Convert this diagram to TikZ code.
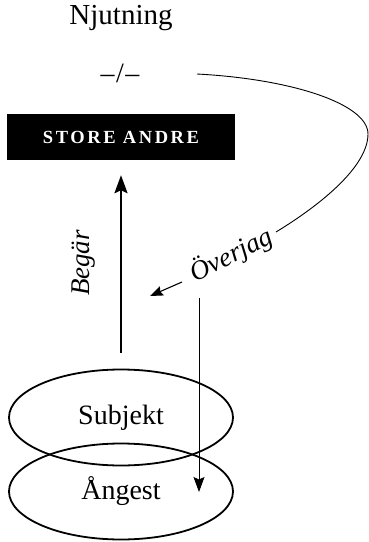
\documentclass[tikz,border=0pt]{standalone}
\usepackage{fontspec}
\setmainfont{Liberation Serif}
\newfontfamily\capsfont[LetterSpace=14]{Liberation Serif}
\usetikzlibrary{arrows.meta,shapes.geometric}
\tikzset{
  lbl/.style={font=\fontsize{28}{30}\selectfont, inner sep=0pt},
  itlbl/.style={font=\fontsize{27}{29}\selectfont\itshape, inner sep=0pt},
  oval/.style={ellipse, draw, line width=1.8pt, minimum width=224pt, minimum height=96pt, inner sep=0pt, font=\fontsize{28}{30}\selectfont},
  thinline/.style={line width=0.9pt},
  bigarrow/.style={line width=2.3pt, -{Stealth[length=18pt,width=13pt,inset=3pt]}},
  smallarrow/.style={line width=1.1pt, -{Stealth[length=13pt,width=10pt,inset=2pt]}},
  downarrow/.style={line width=0.9pt, -{Stealth[length=15pt,width=11pt,inset=2.5pt]}},
}
\begin{document}
\begin{tikzpicture}[x=1pt,y=-1pt]
\useasboundingbox (0,0) rectangle (368,542);
\node[lbl, font=\fontsize{29}{31}\selectfont] (nj) at (121,18) {Njutning};
\node[lbl] (sl) at (120,73) {–\kern1.5pt/\kern1.5pt–};
\node[fill=black, minimum width=228pt, minimum height=46pt, inner sep=0pt, text=white,
      font=\capsfont\fontsize{18.5}{20}\selectfont\bfseries] (box) at (121,137) {STORE ANDRE};
\node[oval] (subj) at (121,417.5) {Subjekt};
\node[oval] (ang) at (121,491.5) {Ångest};
\node[itlbl, rotate=90] (beg) at (84,263) {Begär};
\node[itlbl, rotate=27] (over) at (231,255) {Överjag};
% curve from -/- to Överjag
\coordinate (c0) at (197,74);
\coordinate (c1) at (368,134);
\coordinate (c2) at (276,232);
\draw[thinline] (c0) .. controls (292,79) and (368,104) .. (c1)
                     .. controls (368,166) and (322,204) .. (c2);
% Överjag arrow
\coordinate (o1) at (182,282);
\coordinate (o2) at (150,296);
\draw[smallarrow] (o1) -- (o2);
% Begär arrow
\draw[bigarrow, shorten <=16pt, shorten >=15pt] (subj.north) -- (box.south);
% thin downward arrow
\coordinate (d1) at (199,298);
\coordinate (d2) at (199,492);
\draw[downarrow] (d1) -- (d2);
\end{tikzpicture}
\end{document}
